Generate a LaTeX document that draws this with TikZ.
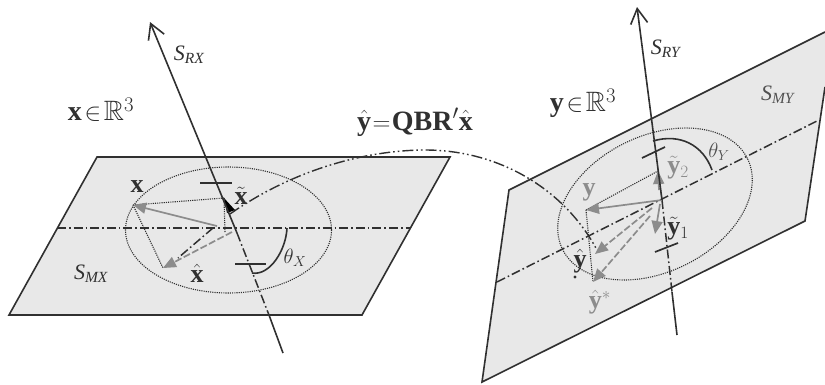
\documentclass[tikz,border=0pt]{standalone}
\usepackage{amsmath,amssymb}
\usepackage{fontspec}
\setmainfont{Liberation Serif}
\usetikzlibrary{arrows.meta}
\definecolor{ink}{HTML}{303030}
\definecolor{pale}{HTML}{E8E8E8}
\definecolor{midg}{HTML}{8C8C8C}
\definecolor{lab}{HTML}{505050}
\newcommand{\SubS}[1]{\textit{S}\raisebox{-0.12em}{\fontsize{15.5}{15.5}\selectfont\textit{#1}}}
\tikzset{
  plane/.style={draw=ink,line width=1.6pt,line join=miter},
  axisline/.style={draw=ink,line width=1.5pt,dash pattern=on 9pt off 3pt on 1.6pt off 3pt},
  axistwo/.style={draw=ink,line width=1.4pt,dash pattern=on 11pt off 3pt on 1.6pt off 3pt on 1.6pt off 3pt},
  solidaxis/.style={draw=ink,line width=1.6pt},
  dots/.style={draw=ink,line width=1.1pt,dash pattern=on 1.1pt off 1.1pt},
  greyarrow/.style={draw=midg,line width=1.7pt,-{Triangle[length=13pt,width=11pt]}},
  greydash/.style={greyarrow,dash pattern=on 7pt off 2.5pt},
  tick/.style={draw=ink,line width=1.7pt},
  arcline/.style={draw=ink,line width=1.6pt},
  lbl/.style={inner sep=0pt,text=ink},
  big/.style={lbl,font=\fontsize{28}{28}\selectfont},
  sym/.style={lbl,font=\fontsize{22}{22}\selectfont},
  vec/.style={lbl,font=\fontsize{26}{26}\selectfont},
  gvec/.style={vec,text=midg}
}
\begin{document}
\begin{tikzpicture}[x=1pt,y=-1pt]
\useasboundingbox (0,0) rectangle (825,384);
% left plane
\fill[pale] (97,157) -- (450,157) -- (362,315) -- (9,315) -- cycle;
\draw[plane] (97,157) -- (450,157) -- (362,315) -- (9,315) -- cycle;
\draw[dots] (228.5,230) ellipse [x radius=103,y radius=63];
% right plane
\fill[pale] (509,190) -- (825,32) -- (825,87) -- (805,221) -- (482,382) -- cycle;
\draw[plane] (825,87) -- (805,221) -- (482,382) -- (509,190) -- (825,32);
\draw[dots,rotate around={26:(655,204)}] (655,204) ellipse [x radius=103,y radius=68];
% coordinates
\coordinate (cx) at (237,233);
\coordinate (ox) at (218,227);
\coordinate (px) at (133,205);
\coordinate (pxh) at (163,268);
\coordinate (pxt) at (224,198);
\coordinate (cy) at (662,200);
\coordinate (py) at (586,210);
\coordinate (pyh) at (595,254);
\coordinate (pys) at (593,282);
\coordinate (pyone) at (655,234);
\coordinate (pytwo) at (658,171);
\coordinate (lxe) at (269,315);
\coordinate (rye) at (672,292);
% horizontal and oblique axes
\draw[axisline] (57,228) -- (410,228);
\draw[axisline] (497,282) -- (817,121);
\draw[axisline] (cx) -- (lxe);
\draw[solidaxis] (lxe) -- (283,353);
\draw[axisline] (cy) -- (rye);
\draw[solidaxis] (rye) -- (677,335);
% projection curve
\draw[axistwo] (230,214) .. controls (300,165) and (375,150) .. (425,150)
  .. controls (500,150) and (565,190) .. (597,250);
% left vectors
\draw[dots] (px) -- (pxt);
\draw[dots] (px) -- (pxh);
\draw[dots] (225,232) -- (pxt);
\draw[axisline] (213,228) -- (178,258);
\draw[greydash] (232,232) -- (pxh);
\draw[greyarrow] (217,226) -- (px);
\fill[black] (224,198) -- (235,210) -- (227,213) -- cycle;
% left rotation axis
\draw[solidaxis,-{Straight Barb[length=15pt,width=17pt,line width=1.6pt]}] (cx) -- (150,22);
\draw[tick] (200,183) -- (232,183);
\draw[tick] (235,264) -- (266,264);
\draw[arcline] (287,228) .. controls (286,250) and (270,276) .. (252,273);
% right vectors
\draw[dots] (py) -- (pytwo);
\draw[dots] (py) -- (pys);
\draw[dots] (cy) -- (pytwo);
\draw[greyarrow] (cy) -- (py);
\draw[greydash] (652,208) -- (pyh);
\draw[greydash] (650,216) -- (pys);
\draw[greyarrow] (660,204) -- (pyone);
\draw[greyarrow] (659,190) -- (pytwo);
\fill[ink] (575,277) circle (1.6);
% right rotation axis
\draw[solidaxis,-{Straight Barb[length=15pt,width=17pt,line width=1.6pt]}] (cy) -- (637,7);
\draw[tick] (642,158) -- (665,147);
\draw[tick] (655,252) -- (678,243);
\draw[arcline] (653,141) .. controls (680,133) and (703,145) .. (712,170);
% labels
\node[sym] (srx) at (189,55) {\SubS{RX}};
\node[sym] (sry) at (666,49) {\SubS{RY}};
\node[sym] (smx) at (91,274) {\SubS{MX}};
\node[sym,text=lab] (smy) at (778,95) {\SubS{MY}};
\node[big] (xr) at (101,110) {$\mathbf{x}\mkern-3mu\in\mkern-3mu\mathbb{R}^{3}$};
\node[big] (yr) at (583,103) {$\mathbf{y}\mkern-3mu\in\mkern-3mu\mathbb{R}^{3}$};
\node[big] (eq) at (415,122) {$\hat{\mathbf{y}}\mkern-4mu=\mkern-4mu\mathbf{QBR}'\hat{\mathbf{x}}$};
\node[vec] (lx) at (137,187) {$\mathbf{x}$};
\node[vec] (lxt) at (241,196) {$\tilde{\mathbf{x}}$};
\node[vec] (lxh) at (197,273) {$\hat{\mathbf{x}}$};
\node[sym] (thx) at (295,258) {$\theta_{X}$};
\node[sym,text=lab] (thy) at (719,152) {$\theta_{Y}$};
\node[gvec] (ly) at (589,192) {$\mathbf{y}$};
\node[gvec] (lyt) at (678,168) {$\tilde{\mathbf{y}}_{2}$};
\node[vec] (lyo) at (678,229) {$\tilde{\mathbf{y}}_{1}$};
\node[vec] (lyh) at (580,261) {$\hat{\mathbf{y}}$};
\node[gvec] (lys) at (600,302) {$\hat{\mathbf{y}}^{*}$};
\end{tikzpicture}
\end{document}
